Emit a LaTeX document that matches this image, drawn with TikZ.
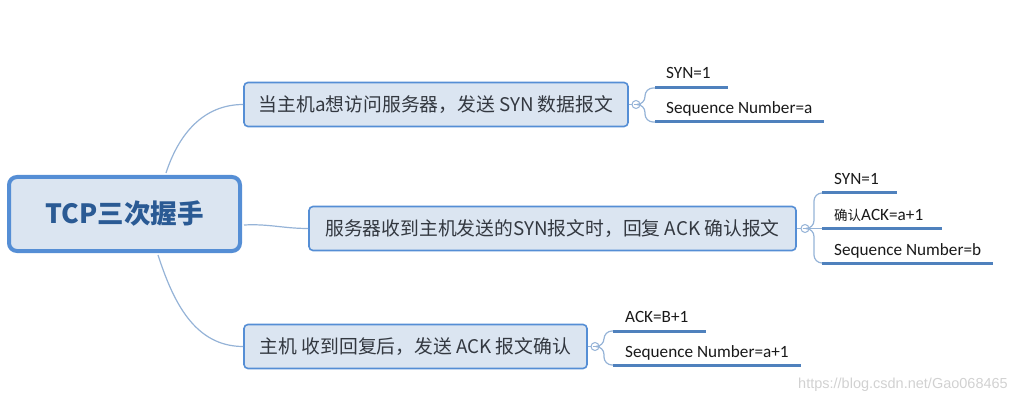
\documentclass[tikz,border=0pt]{standalone}
\usepackage{fontspec}
\setmainfont{Carlito}
\newfontfamily\cjk{Noto Sans CJK SC}
\newfontfamily\wmfont{Liberation Sans}
\definecolor{boxfill}{HTML}{DBE5F1}
\definecolor{boxline}{HTML}{558ED5}
\definecolor{connc}{HTML}{95B3D7}
\definecolor{leafc}{HTML}{4F81BD}
\definecolor{roottext}{HTML}{2A5A94}
\definecolor{btext}{HTML}{333840}
\begin{document}
\begin{tikzpicture}[x=1pt,y=-1pt,
 rootbox/.style={draw=boxline,line width=4pt,fill=boxfill,rounded corners=8pt,minimum width=231pt,minimum height=74pt,inner sep=0pt,font=\cjk\bfseries\fontsize{26.5}{30}\selectfont,text=roottext},
 branchbox/.style={draw=boxline,line width=1.6pt,fill=boxfill,rounded corners=4pt,minimum height=44pt,inner sep=0pt,font=\cjk\fontsize{18.8}{22}\selectfont,text=btext},
 conn/.style={draw=connc,line width=1.2pt},
 leafline/.style={draw=leafc,line width=3pt},
 leaftext/.style={anchor=base west,inner sep=0pt,font=\fontsize{17.2}{20}\selectfont,text=black!90},
 toggle/.style={circle,draw=connc,line width=1pt,fill=white,minimum size=8pt,inner sep=0pt,
   path picture={\draw[connc,line width=0.8pt] ([xshift=-2.4pt]path picture bounding box.center) -- ([xshift=2.4pt]path picture bounding box.center);}},
]
\useasboundingbox (0,0) rectangle (1018,401);

% nodes
\node[rootbox] (root) at (124.5,214) {TCP三次握手};
\node[branchbox,minimum width=384pt] (b1) at (436,104.5) {当主机a想访问服务器，发送 SYN 数据报文};
\node[branchbox,minimum width=487pt] (b2) at (552.5,228.5) {服务器收到主机发送的SYN报文时，回复 ACK 确认报文};
\node[branchbox,minimum width=343pt] (b3) at (415.5,346.5) {主机 收到回复后，发送 ACK 报文确认};

% root connectors
\coordinate (r1) at (166,173);
\coordinate (r2) at (244,225);
\coordinate (r3) at (158,255);
\draw[conn] (r1) to[out=72,in=180] (b1.west);
\draw[conn] (r2) to[out=3,in=180] (b2.west);
\draw[conn] (r3) to[out=-72,in=180] (b3.west);

% toggles
\node[toggle] (c1) at (636,104.5) {};
\node[toggle] (c2) at (805,228.5) {};
\node[toggle] (c3) at (595,346.5) {};
\draw[conn] (b1.east) -- (c1.west);
\draw[conn] (b2.east) -- (c2.west);
\draw[conn] (b3.east) -- (c3.west);

% branch 1 leaves
\coordinate (j1) at (645,104.5);
\coordinate (l11s) at (655,88);  \coordinate (l11e) at (728,88);
\coordinate (l12s) at (655,122); \coordinate (l12e) at (824,122);
\draw[conn,rounded corners=8pt] (c1.east) -- (j1) |- (l11s);
\draw[conn,rounded corners=8pt] (c1.east) -- (j1) |- (l12s);
\draw[leafline] (l11s) -- (l11e);
\draw[leafline] (l12s) -- (l12e);
\node[leaftext] (t11) at (666,79) {SYN=1};
\node[leaftext] (t12) at (666,114) {Sequence Number=a};

% branch 2 leaves
\coordinate (j2) at (814,228.5);
\coordinate (l21s) at (822,193); \coordinate (l21e) at (897,193);
\coordinate (l22s) at (822,228.5); \coordinate (l22e) at (942,228.5);
\coordinate (l23s) at (822,263); \coordinate (l23e) at (993,263);
\draw[conn,rounded corners=8pt] (c2.east) -- (j2) |- (l21s);
\draw[conn] (c2.east) -- (l22s);
\draw[conn,rounded corners=8pt] (c2.east) -- (j2) |- (l23s);
\draw[leafline] (l21s) -- (l21e);
\draw[leafline] (l22s) -- (l22e);
\draw[leafline] (l23s) -- (l23e);
\node[leaftext] (t21) at (834,185) {SYN=1};
\node[leaftext] (t22) at (834,220) {{\cjk\fontsize{13.5}{16}\selectfont 确认}ACK=a+1};
\node[leaftext] (t23) at (834,255) {Sequence Number=b};

% branch 3 leaves
\coordinate (j3) at (604,346.5);
\coordinate (l31s) at (613,331); \coordinate (l31e) at (706,331);
\coordinate (l32s) at (613,365); \coordinate (l32e) at (801,365);
\draw[conn,rounded corners=8pt] (c3.east) -- (j3) |- (l31s);
\draw[conn,rounded corners=8pt] (c3.east) -- (j3) |- (l32s);
\draw[leafline] (l31s) -- (l31e);
\draw[leafline] (l32s) -- (l32e);
\node[leaftext] (t31) at (625,322) {ACK=B+1};
\node[leaftext] (t32) at (625,357) {Sequence Number=a+1};

% watermark
\node[anchor=base east,inner sep=0pt,font=\wmfont\fontsize{14.5}{16}\selectfont,text=black!18] (wm) at (1008,388) {https://blog.csdn.net/Gao068465};
\end{tikzpicture}
\end{document}
